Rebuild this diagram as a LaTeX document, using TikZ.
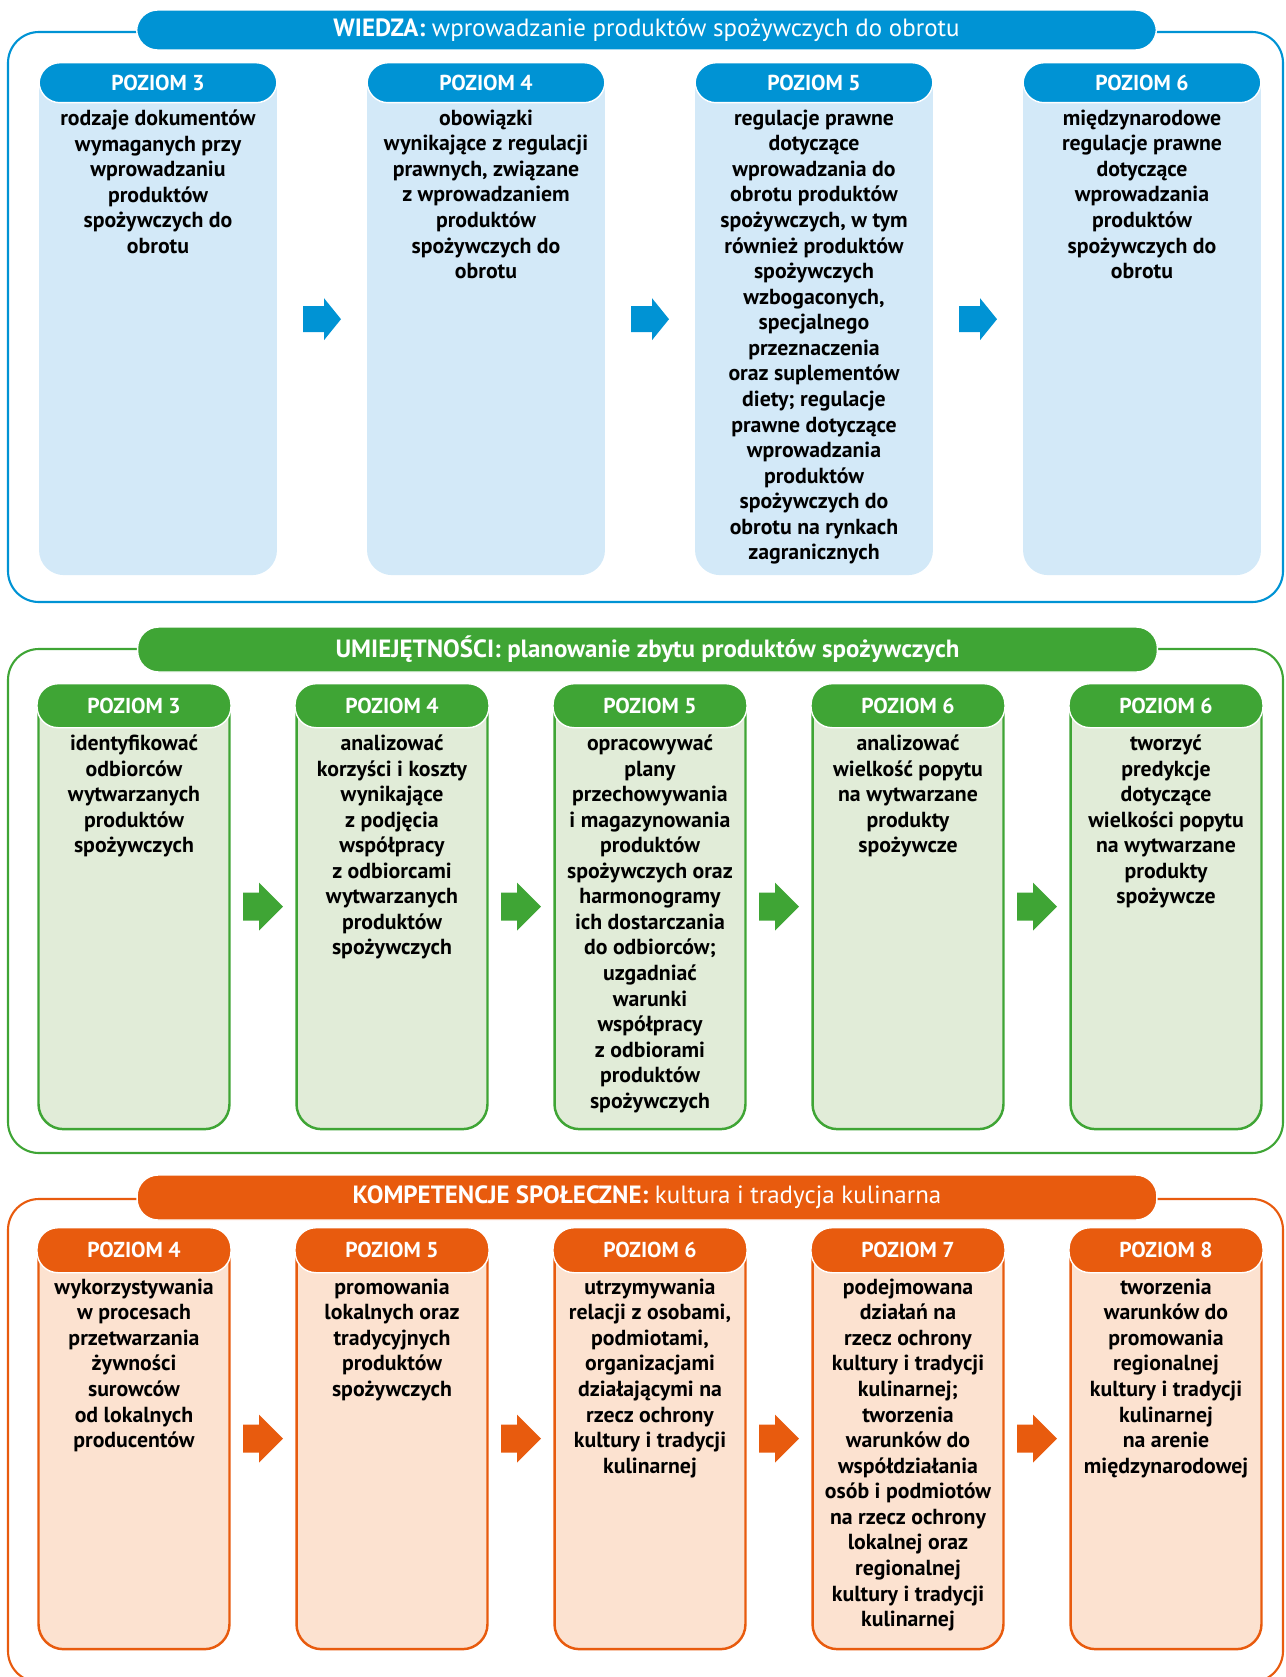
\documentclass[tikz,border=0pt]{standalone}
\usepackage{fontspec}
\setmainfont{PT Sans}
\usetikzlibrary{calc}

\definecolor{wblue}{RGB}{0,147,212}
\definecolor{wbluel}{RGB}{211,233,248}
\definecolor{ugreen}{RGB}{63,165,53}
\definecolor{ugreenl}{RGB}{225,236,216}
\definecolor{korange}{RGB}{232,91,14}
\definecolor{korangel}{RGB}{252,226,208}

\tikzset{
  frame/.style={draw=#1, line width=1.2pt, rounded corners=0.62cm},
  headbar/.style={fill=#1, draw=white, line width=0.8pt, rounded corners=0.42cm,
    minimum width=20.4cm, inner sep=0pt, text=white, font=\fontsize{14.2}{17}\selectfont},
  lvlbody/.style={rounded corners=0.5cm, anchor=north, inner sep=0pt, line width=1.4pt},
  lvltab/.style={fill=#1, draw=white, line width=0.8pt, rounded corners=0.42cm, anchor=north,
    inner sep=0pt, text=white, font=\bfseries\fontsize{12.3}{13}\selectfont},
  lvltext/.style={anchor=north, align=center, inner sep=0pt, font=\bfseries\fontsize{12.4}{14.55}\selectfont},
  wbox/.style={lvlbody, fill=wbluel, minimum width=4.76cm, minimum height=10.24cm},
  ubox/.style={lvlbody, fill=ugreenl, draw=ugreen, minimum width=3.82cm, minimum height=8.9cm},
  kbox/.style={lvlbody, fill=korangel, draw=korange, minimum width=3.82cm, minimum height=8.42cm},
}

\begin{document}
\begin{tikzpicture}[x=0.02cm, y=-0.02cm]
\useasboundingbox (0,0) rectangle (1285,1677);

% wiedza
\draw[frame=wblue] (8,32) rectangle (1283,602);
\node[headbar=wblue, minimum height=0.8cm] (wh) at (646.5,30)
  {\textbf{WIEDZA:} wprowadzanie produktów spożywczych do obrotu};
\foreach \i/\x/\lvl/\txt in {
  1/158/3/{rodzaje dokumentów\\wymaganych przy\\wprowadzaniu\\produktów\\spożywczych do\\obrotu},
  2/486/4/{obowiązki\\wynikające z regulacji\\prawnych, związane\\z wprowadzaniem\\produktów\\spożywczych do\\obrotu},
  3/814/5/{regulacje prawne\\dotyczące\\wprowadzania do\\obrotu produktów\\spożywczych, w tym\\również produktów\\spożywczych\\wzbogaconych,\\specjalnego\\przeznaczenia\\oraz suplementów\\diety; regulacje\\prawne dotyczące\\wprowadzania\\produktów\\spożywczych do\\obrotu na rynkach\\zagranicznych},
  4/1142/6/{międzynarodowe\\regulacje prawne\\dotyczące\\wprowadzania\\produktów\\spożywczych do\\obrotu}}{
  \node[wbox] (w\i) at (\x,62) {};
  \node[lvltab=wblue, minimum width=4.76cm, minimum height=0.8cm] (wt\i) at (w\i.north) {POZIOM \lvl};
  \node[lvltext] (wx\i) at ($(wt\i.south)+(0,6)$) {\txt};
}
\foreach \a/\b in {1/2,2/3,3/4}
  \fill[wblue] ($(w\a.east)!0.5!(w\b.west)$) +(-19,-13) -- +(2,-13) -- +(2,-21) -- +(19,0)
    -- +(2,21) -- +(2,13) -- +(-19,13) -- cycle;

% umiejetnosci
\draw[frame=ugreen] (8,649) rectangle (1283,1153);
\node[headbar=ugreen, minimum height=0.9cm] (uh) at (647.5,649.5)
  {\textbf{UMIEJĘTNOŚCI: planowanie zbytu produktów spożywczych}};
\foreach \i/\x/\lvl/\txt in {
  1/134/3/{identyfikować\\odbiorców\\wytwarzanych\\produktów\\spożywczych},
  2/392/4/{analizować\\korzyści i koszty\\wynikające\\z podjęcia\\współpracy\\z odbiorcami\\wytwarzanych\\produktów\\spożywczych},
  3/650/5/{opracowywać\\plany\\przechowywania\\i magazynowania\\produktów\\spożywczych oraz\\harmonogramy\\ich dostarczania\\do odbiorców;\\uzgadniać\\warunki\\współpracy\\z odbiorami\\produktów\\spożywczych},
  4/908/6/{analizować\\wielkość popytu\\na wytwarzane\\produkty\\spożywcze},
  5/1166/6/{tworzyć\\predykcje\\dotyczące\\wielkości popytu\\na wytwarzane\\produkty\\spożywcze}}{
  \node[ubox] (u\i) at (\x,683) {};
  \node[lvltab=ugreen, minimum width=3.88cm, minimum height=0.88cm] (ut\i) at (u\i.north) {POZIOM \lvl};
  \node[lvltext] (ux\i) at ($(ut\i.south)+(0,6)$) {\txt};
}
\foreach \a/\b in {1/2,2/3,3/4,4/5}
  \fill[ugreen] ($(u\a.east)!0.5!(u\b.west)$) +(-20,-14) -- +(-4,-14) -- +(-4,-24) -- +(20,0)
    -- +(-4,24) -- +(-4,14) -- +(-20,14) -- cycle;

% kompetencje
\draw[frame=korange] (8,1199) rectangle (1283,1682);
\node[headbar=korange, minimum height=0.9cm] (kh) at (647,1197.5)
  {\textbf{KOMPETENCJE SPOŁECZNE:} kultura i tradycja kulinarna};
\foreach \i/\x/\lvl/\txt in {
  1/134/4/{wykorzystywania\\w procesach\\przetwarzania\\żywności\\surowców\\od lokalnych\\producentów},
  2/392/5/{promowania\\lokalnych oraz\\tradycyjnych\\produktów\\spożywczych},
  3/650/6/{utrzymywania\\relacji z osobami,\\podmiotami,\\organizacjami\\działającymi na\\rzecz ochrony\\kultury i tradycji\\kulinarnej},
  4/908/7/{podejmowana\\działań na\\rzecz ochrony\\kultury i tradycji\\kulinarnej;\\tworzenia\\warunków do\\współdziałania\\osób i podmiotów\\na rzecz ochrony\\lokalnej oraz\\regionalnej\\kultury i tradycji\\kulinarnej},
  5/1166/8/{tworzenia\\warunków do\\promowania\\regionalnej\\kultury i tradycji\\kulinarnej\\na arenie\\międzynarodowej}}{
  \node[kbox] (k\i) at (\x,1227) {};
  \node[lvltab=korange, minimum width=3.88cm, minimum height=0.9cm] (kt\i) at (k\i.north) {POZIOM \lvl};
  \node[lvltext] (kx\i) at ($(kt\i.south)+(0,5)$) {\txt};
}
\foreach \a/\b in {1/2,2/3,3/4,4/5}
  \fill[korange] ($(k\a.east)!0.5!(k\b.west)$) +(-20,-14) -- +(-4,-14) -- +(-4,-24) -- +(20,0)
    -- +(-4,24) -- +(-4,14) -- +(-20,14) -- cycle;
\end{tikzpicture}
\end{document}
